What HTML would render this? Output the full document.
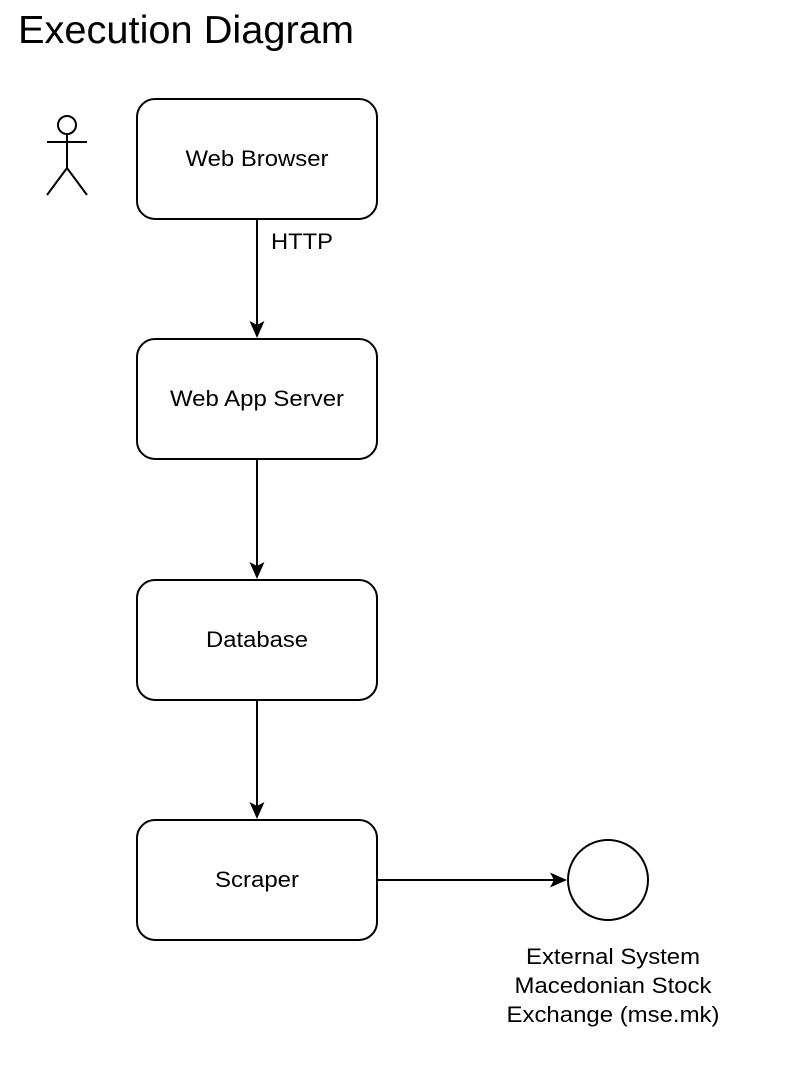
<!DOCTYPE html>
<html><head><meta charset="utf-8"><style>
html,body{margin:0;padding:0;background:#fff;}
svg{display:block;}
text{font-family:"Liberation Sans",Arial,sans-serif;fill:#000;}
</style></head><body>
<svg width="794" height="1074" viewBox="0 0 794 1074" xmlns="http://www.w3.org/2000/svg">
<text x="18" y="43" font-size="39" textLength="336" lengthAdjust="spacingAndGlyphs">Execution Diagram</text>
<g fill="none" stroke="#000" stroke-width="2">
<circle cx="67" cy="125" r="9"/>
<line x1="67" y1="134" x2="67" y2="168"/>
<line x1="47" y1="142" x2="87" y2="142"/>
<line x1="67" y1="168" x2="47" y2="195"/>
<line x1="67" y1="168" x2="87" y2="195"/>
<rect x="137" y="99" width="240" height="120" rx="18"/>
<rect x="137" y="339" width="240" height="120" rx="18"/>
<rect x="137" y="580" width="240" height="120" rx="18"/>
<rect x="137" y="820" width="240" height="120" rx="18"/>
<circle cx="608" cy="880" r="40"/>
<line x1="257" y1="219" x2="257" y2="326"/>
<line x1="257" y1="459" x2="257" y2="567"/>
<line x1="257" y1="700" x2="257" y2="807"/>
<line x1="377" y1="880" x2="555" y2="880"/>
</g>
<g fill="#000">
<path d="M249.5,321 L257,338 L264.5,321 L257,325 Z"/>
<path d="M249.5,562 L257,579 L264.5,562 L257,566 Z"/>
<path d="M249.5,802 L257,819 L264.5,802 L257,806 Z"/>
<path d="M550,872.5 L567,880 L550,887.5 L554,880 Z"/>
</g>
<g font-size="22" text-anchor="middle">
<text x="257" y="166" textLength="143" lengthAdjust="spacingAndGlyphs">Web Browser</text>
<text x="257" y="406" textLength="174" lengthAdjust="spacingAndGlyphs">Web App Server</text>
<text x="257" y="647" textLength="102" lengthAdjust="spacingAndGlyphs">Database</text>
<text x="257" y="887" textLength="84" lengthAdjust="spacingAndGlyphs">Scraper</text>
<text x="302" y="249" textLength="62" lengthAdjust="spacingAndGlyphs">HTTP</text>
<text x="613" y="964" textLength="174" lengthAdjust="spacingAndGlyphs">External System</text>
<text x="613" y="993" textLength="197" lengthAdjust="spacingAndGlyphs">Macedonian Stock</text>
<text x="613" y="1022" textLength="213" lengthAdjust="spacingAndGlyphs">Exchange (mse.mk)</text>
</g>
</svg>
</body></html>
